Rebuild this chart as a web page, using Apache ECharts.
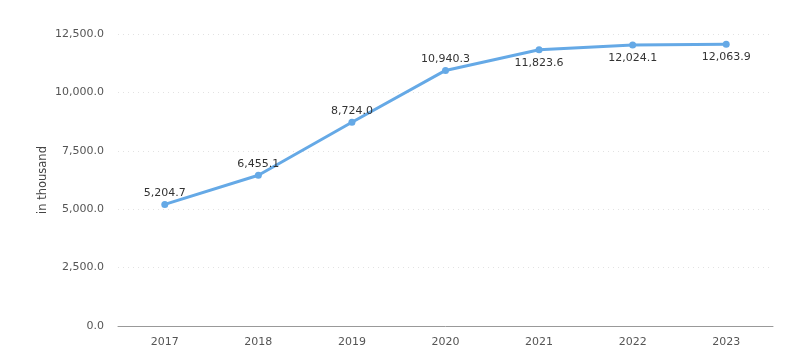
<!DOCTYPE html>
<html><head><meta charset="utf-8">
<script src="https://cdn.jsdelivr.net/npm/echarts@6/dist/echarts.min.js"></script>
<style>html,body{margin:0;padding:0;background:#fff}#c{width:806px;height:357px}</style>
</head><body><div id="c"></div>
<script>
const categories = ['2017','2018','2019','2020','2021','2022','2023'];
const values = [5204.7, 6455.1, 8724.0, 10940.3, 11823.6, 12024.1, 12063.9];
const labelPositions = ['top','top','top','top','bottom','bottom','bottom'];
const yTitle = 'in thousand';
const fmt = v => v.toLocaleString('en-US', {minimumFractionDigits:1, maximumFractionDigits:1});
const chart = echarts.init(document.getElementById('c'), null, {renderer:'canvas'});
chart.setOption({
  animation:false,
  textStyle:{fontFamily:'DejaVu Sans'},
  grid:{left:118, right:33, top:34, bottom:31, containLabel:false},
  xAxis:{type:'category', data:categories, boundaryGap:true,
    axisLine:{lineStyle:{color:'#999', width:1}}, axisTick:{show:false},
    axisLabel:{color:'#555', fontSize:11, margin:11, fontFamily:'DejaVu Sans'}},
  yAxis:{type:'value', min:0, max:12500, interval:2500,
    name:yTitle, nameLocation:'middle', nameGap:69, nameRotate:90, nameMoveOverlap:false,
    nameTextStyle:{color:'#444', fontSize:11.5, fontFamily:'DejaVu Sans'},
    axisLabel:{color:'#555', fontSize:11, margin:14, formatter:fmt, fontFamily:'DejaVu Sans'},
    axisLine:{show:false}, axisTick:{show:false},
    splitLine:{lineStyle:{color:'#e2e2e2', type:[1,4], width:1}}},
  series:[{type:'line', data:values.map((v,i)=>({value:v, label:{position:labelPositions[i], distance: labelPositions[i]==='top'?2:4}})),
    symbol:'circle', symbolSize:7,
    lineStyle:{color:'#65a9e6', width:3}, itemStyle:{color:'#65a9e6'},
    label:{show:true, color:'#333', fontSize:11, fontFamily:'DejaVu Sans',
      formatter:p=>fmt(p.value)}}]
});
</script></body></html>
